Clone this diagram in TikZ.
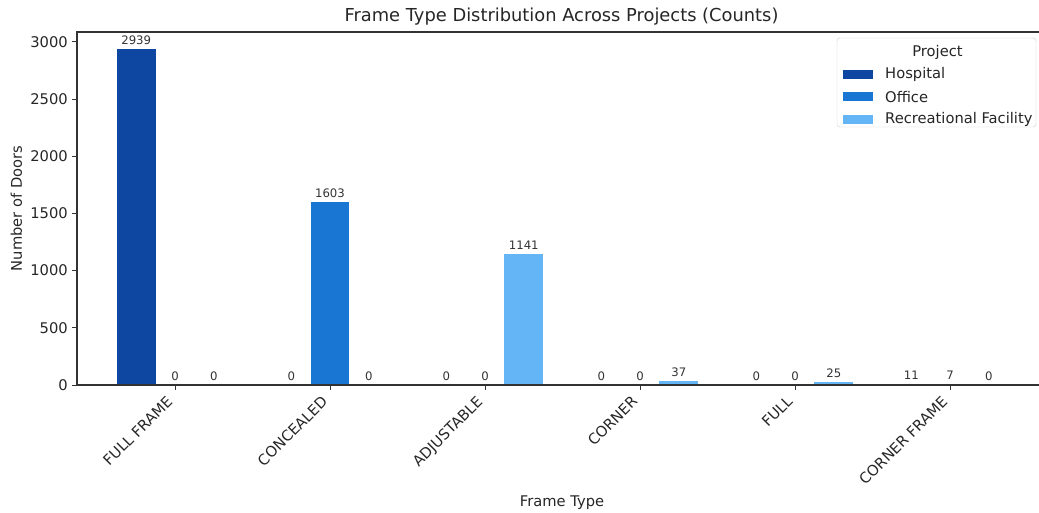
\documentclass[tikz,border=0pt]{standalone}
\usepackage{fontspec}
\setmainfont{DejaVu Sans}
\begin{document}
\begin{tikzpicture}[x=1pt,y=-1pt,
  spine/.style={draw=black!80, line width=1.1pt},
  tickmark/.style={draw=black!80, line width=0.9pt},
  ylab/.style={font=\fontsize{14.7}{16}\selectfont, inner sep=0pt, anchor=east, text=black!85},
  xlab/.style={font=\fontsize{14.7}{16}\selectfont, inner sep=0pt, rotate=45, anchor=north east, text height=0.76em, text depth=0.21em, text=black!85},
  barlab/.style={font=\fontsize{11.7}{13}\selectfont, inner sep=0pt, anchor=base, text=black!80},
  axlab/.style={font=\fontsize{14.7}{16}\selectfont, inner sep=0pt, text=black!85},
  legtext/.style={font=\fontsize{14.7}{16}\selectfont, inner sep=0pt, anchor=west, text=black!85},
]
\useasboundingbox (0,0) rectangle (1039,513);
\definecolor{hosp}{HTML}{0D47A1}
\definecolor{offi}{HTML}{1976D2}
\definecolor{recr}{HTML}{64B5F6}

% bars and labels
\foreach \i/\a/\b/\c in {0/2939/0/0, 1/0/1603/0, 2/0/0/1141, 3/0/0/37, 4/0/0/25, 5/11/7/0}{
  \pgfmathsetmacro{\xc}{175+155*\i}
  \fill[hosp] ({\xc-58.125},385) rectangle ({\xc-19.375},{385-\a*0.1144});
  \fill[offi] ({\xc-19.375},385) rectangle ({\xc+19.375},{385-\b*0.1144});
  \fill[recr] ({\xc+19.375},385) rectangle ({\xc+58.125},{385-\c*0.1144});
  \node[barlab] (la\i) at ({\xc-38.75},{385-\a*0.1144-4.5}) {\a};
  \node[barlab] (lb\i) at ({\xc},{385-\b*0.1144-4.5}) {\b};
  \node[barlab] (lc\i) at ({\xc+38.75},{385-\c*0.1144-4.5}) {\c};
  \draw[tickmark] (\xc,385) -- (\xc,390);
}

% spines
\coordinate (TL) at (77,32);
\coordinate (BL) at (77,385);
\coordinate (TR) at (1039,32);
\coordinate (BR) at (1039,385);
\draw[spine] (TR) -- (TL) -- (BL) -- (BR);

% y ticks
\foreach \v in {0,500,1000,1500,2000,2500,3000}{
  \draw[tickmark] (72,{385-\v*0.1144}) -- (77,{385-\v*0.1144});
  \node[ylab] (yt\v) at (68,{385-\v*0.1144}) {\v};
}

% x tick labels
\node[xlab] (x0) at ({175-7},397) {FULL FRAME};
\node[xlab] (x1) at ({330-7},397) {CONCEALED};
\node[xlab] (x2) at ({485-7},397) {ADJUSTABLE};
\node[xlab] (x3) at ({640-7},397) {CORNER};
\node[xlab] (x4) at ({795-7},397) {FULL};
\node[xlab] (x5) at ({950-7},397) {CORNER FRAME};

% axis labels and title
\node[axlab] (xaxl) at (562,503) {Frame Type};
\node[axlab, rotate=90] (yaxl) at (16.5,208.5) {Number of Doors};
\node[font=\fontsize{17.85}{20}\selectfont, inner sep=0pt, text=black!85] (title) at (561.5,17) {Frame Type Distribution Across Projects (Counts)};

% legend
\node[draw=black!20, fill=white, rounded corners=3pt, minimum width=199pt, minimum height=89pt, inner sep=0pt] (leg) at (936.5,82.5) {};
\node[axlab] (legt) at (937.5,52.5) {Project};
\fill[hosp] (843,70) rectangle (873,79);
\node[legtext] (lg1) at (885,74.5) {Hospital};
\fill[offi] (843,92.5) rectangle (873,101.5);
\node[legtext] (lg2) at (885,97) {Office};
\fill[recr] (843,115) rectangle (873,124);
\node[legtext] (lg3) at (885,119.5) {Recreational Facility};
\end{tikzpicture}
\end{document}
